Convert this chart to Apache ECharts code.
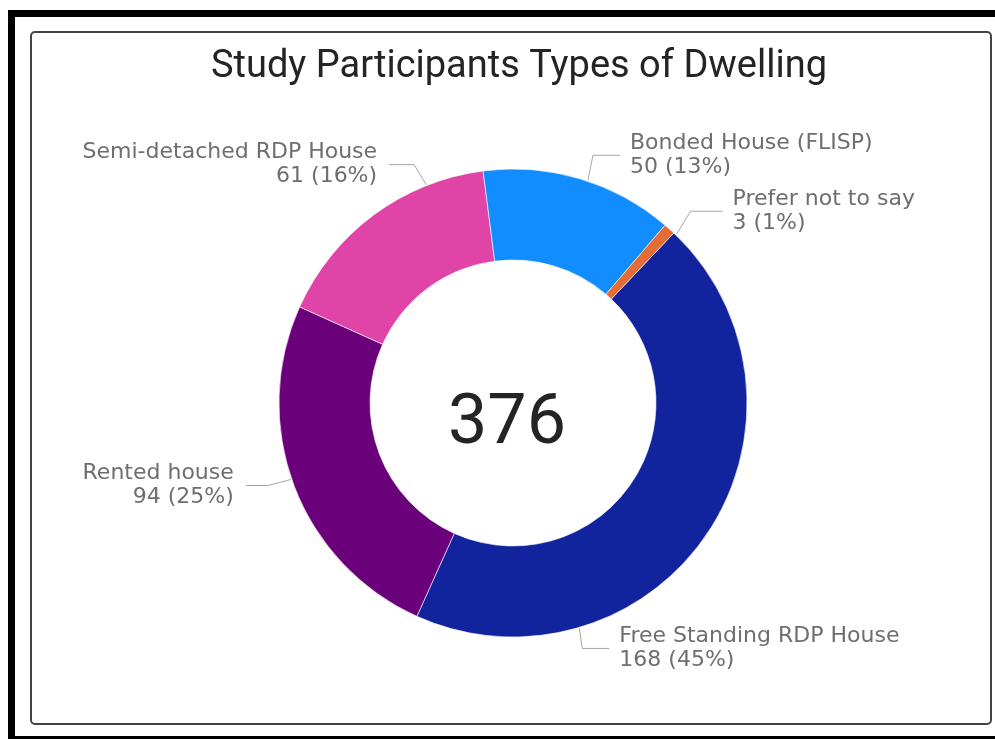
<!DOCTYPE html>
<html>
<head>
<meta charset="utf-8">
<script src="https://cdn.jsdelivr.net/npm/echarts@6/dist/echarts.min.js"></script>
<style>
html,body{margin:0;padding:0;background:#fff;}
#chart{width:995px;height:739px;}
</style>
</head>
<body>
<div id="chart"></div>
<script>
// ---- data ----
var categories = ['Free Standing RDP House', 'Rented house', 'Semi-detached RDP House', 'Bonded House (FLISP)', 'Prefer not to say'];
var values = [168, 94, 61, 50, 3];
var colors = ['#12239E', '#6B007B', '#E044A7', '#118DFF', '#E66C37'];
var chartTitle = 'Study Participants Types of Dwelling';

// ---- layout (label guide geometry, not data) ----
var pieCenter = [513, 403];
var pieRadius = [143, 234];
// anchor angle (deg clockwise from 12 o'clock), elbow offset, horizontal run
var guideAngle = [163.6, 251, 338.3, 18.6, 44.1];
var guideElbow = [[3, 20], [-23, 6], [-12, -20], [5, -25], [14, -23]];
var guideRun = [27, -22, -25, 27, 32];

var total = values.reduce(function (a, b) { return a + b; }, 0);

var chart = echarts.init(document.getElementById('chart'), null, {renderer: 'canvas'});

var option = {
  backgroundColor: '#fff',
  animation: false,
  title: {
    text: chartTitle,
    left: 514,
    top: 43,
    textAlign: 'center',
    textStyle: {
      fontFamily: 'Roboto',
      fontSize: 38,
      fontWeight: 'normal',
      color: '#252423'
    }
  },
  graphic: [
    {type: 'rect', shape: {x: 8, y: 10, width: 987, height: 7}, style: {fill: '#000'}, silent: true},
    {type: 'rect', shape: {x: 8, y: 10, width: 7, height: 729}, style: {fill: '#000'}, silent: true},
    {type: 'rect', shape: {x: 8, y: 736, width: 987, height: 3}, style: {fill: '#000'}, silent: true},
    {type: 'rect', shape: {x: 31, y: 32, width: 960, height: 692, r: 4}, style: {fill: 'none', stroke: '#444', lineWidth: 2}, silent: true},
    {
      type: 'text',
      style: {
        text: String(total),
        x: 507, y: 425,
        textAlign: 'center',
        textVerticalAlign: 'middle',
        fontFamily: 'Roboto',
        fontSize: 70,
        fill: '#252423'
      },
      silent: true
    }
  ],
  series: [{
    type: 'pie',
    center: pieCenter,
    radius: pieRadius,
    startAngle: 46.6,
    clockwise: true,
    avoidLabelOverlap: false,
    percentPrecision: 0,
    itemStyle: {borderColor: '#fff', borderWidth: 0.6},
    data: categories.map(function (c, i) {
      return {name: c, value: values[i], itemStyle: {color: colors[i]}};
    }),
    label: {
      show: true,
      position: 'outside',
      formatter: '{b}\n{c} ({d}%)',
      fontFamily: 'DejaVu Sans',
      fontSize: 22,
      lineHeight: 24,
      color: '#6e6e6e'
    },
    labelLine: {
      show: true,
      smooth: false,
      lineStyle: {color: '#a6a6a6', width: 1}
    },
    labelLayout: function (params) {
      var i = params.dataIndex;
      var a = guideAngle[i] * Math.PI / 180;
      var r = pieRadius[1] + 1;
      var p0 = [pieCenter[0] + r * Math.sin(a), pieCenter[1] - r * Math.cos(a)];
      var p1 = [p0[0] + guideElbow[i][0], p0[1] + guideElbow[i][1]];
      var p2 = [p1[0] + guideRun[i], p1[1]];
      var right = guideRun[i] > 0;
      return {
        x: p2[0] + (right ? 10 : -12),
        y: p2[1],
        align: right ? 'left' : 'right',
        verticalAlign: 'middle',
        labelLinePoints: [p0, p1, p2]
      };
    }
  }]
};
chart.setOption(option);
</script>
</body>
</html>
